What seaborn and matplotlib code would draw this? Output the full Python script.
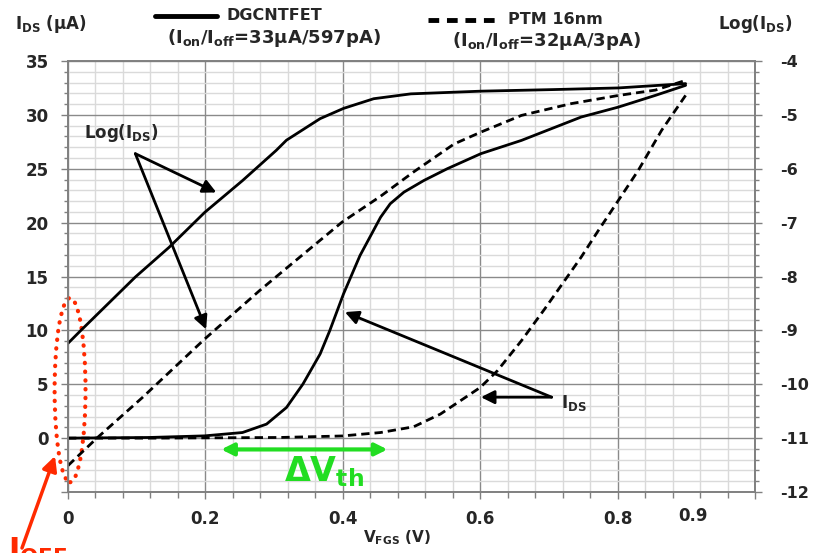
import numpy as np
import pandas as pd
import matplotlib
matplotlib.use("Agg")
import matplotlib.pyplot as plt
import seaborn as sns
from matplotlib.ticker import MultipleLocator
from matplotlib.patches import Ellipse, FancyArrowPatch
from matplotlib.lines import Line2D
import matplotlib.transforms as mtransforms

# datos (V_FGS en V, I_DS en uA, log en decadas)
v_cnt_lin = [0, 0.118, 0.199, 0.254, 0.289, 0.318, 0.342, 0.367, 0.381, 0.401,
             0.425, 0.455, 0.469, 0.489, 0.518, 0.552, 0.601, 0.66, 0.747, 0.801,
             0.855, 0.899]
i_cnt_lin = [0, 0.06, 0.21, 0.52, 1.3, 2.84, 5.02, 7.81, 9.97, 13.38,
             16.94, 20.5, 21.75, 22.83, 23.91, 25.0, 26.4, 27.63, 29.8, 30.72,
             31.81, 32.74]

v_ptm_lin = [0, 0.118, 0.308, 0.399, 0.455, 0.503, 0.542, 0.582, 0.6, 0.625,
             0.66, 0.694, 0.747, 0.772, 0.801, 0.830, 0.864, 0.899]
i_ptm_lin = [0, 0, 0.06, 0.2, 0.52, 1.05, 2.23, 3.93, 4.7, 6.25,
             9.04, 12.0, 16.8, 19.27, 22.05, 24.84, 28.56, 31.81]

v_cnt_log = [0, 0.018, 0.098, 0.147, 0.199, 0.254, 0.303, 0.318, 0.367, 0.401,
             0.445, 0.499, 0.601, 0.708, 0.801, 0.899]
log_cnt = [-9.24, -9.01, -8.01, -7.46, -6.81, -6.22, -5.66, -5.47, -5.07, -4.88,
           -4.70, -4.61, -4.56, -4.53, -4.50, -4.42]

v_ptm_log = [0, 0.042, 0.108, 0.199, 0.279, 0.328, 0.399, 0.455, 0.503, 0.562,
             0.601, 0.66, 0.733, 0.801, 0.855, 0.899]
log_ptm = [-11.51, -11.0, -10.25, -9.16, -8.26, -7.74, -6.99, -6.51, -6.06, -5.54,
           -5.32, -5.01, -4.79, -4.64, -4.54, -4.36]

x_ticks = [0, 0.2, 0.4, 0.6, 0.8, 1.0]
x_tick_labels = ["0", "0.2", "0.4", "0.6", "0.8", ""]
left_ticks = list(range(-5, 36, 5))
left_tick_labels = [""] + [str(t) for t in range(0, 36, 5)]
right_ticks = list(range(-12, -3))

sns.set_theme(style="white")
plt.rcParams["font.family"] = ["DejaVu Sans"]
plt.rcParams["font.weight"] = "bold"
plt.rcParams["mathtext.fontset"] = "dejavusans"
plt.rcParams["mathtext.default"] = "bf"

W, H = 814, 553
fig = plt.figure(figsize=(W / 100, H / 100), dpi=100)
ax = fig.add_axes([68 / W, 1 - 492 / H, (755 - 68) / W, (492 - 61) / H])
ax2 = ax.twinx()

dash = (0, (3, 1.8))
lw = 2.0
sns.lineplot(x=v_cnt_lin, y=i_cnt_lin, ax=ax, color="black", lw=lw,
             sort=False, estimator=None)
sns.lineplot(x=v_ptm_lin, y=i_ptm_lin, ax=ax, color="black", lw=lw,
             linestyle=dash, sort=False, estimator=None)
sns.lineplot(x=v_cnt_log, y=log_cnt, ax=ax2, color="black", lw=lw,
             sort=False, estimator=None)
sns.lineplot(x=v_ptm_log, y=log_ptm, ax=ax2, color="black", lw=lw,
             linestyle=dash, sort=False, estimator=None)

ax.set_xlim(0, 1.0)
ax.set_ylim(-5, 35)
ax2.set_ylim(-12, -4)

ax.set_xticks(x_ticks, labels=x_tick_labels)
ax.xaxis.set_minor_locator(MultipleLocator(0.04))
ax.set_yticks(left_ticks, labels=left_tick_labels)
ax.yaxis.set_minor_locator(MultipleLocator(1))
ax2.set_yticks(right_ticks, labels=[str(t) for t in right_ticks])
ax2.yaxis.set_minor_locator(MultipleLocator(0.2))

ax.grid(which="major", color="#8a8a8a", lw=1.0)
ax.grid(which="minor", color="#dadada", lw=1.0)
ax.set_axisbelow(True)

for a in (ax, ax2):
    for s in a.spines.values():
        s.set_color("#808080")
        s.set_linewidth(1.2)
ax.tick_params(axis="x", which="major", direction="out", length=5, width=1,
               color="#808080", labelsize=12, pad=8, bottom=True)
ax.tick_params(axis="x", which="minor", direction="out", length=4, width=1,
               color="#808080", bottom=True)
ax.tick_params(axis="y", which="major", direction="out", length=5, width=1,
               color="#808080", labelsize=12, pad=9, left=True)
ax.tick_params(axis="y", which="minor", direction="out", length=3, width=1,
               color="#808080", left=True)
ax2.tick_params(axis="y", which="major", direction="out", length=5, width=1,
                color="#808080", labelsize=11.5, pad=13, right=True)
ax2.tick_params(axis="y", which="minor", direction="out", length=3, width=1,
                color="#808080", right=True)
ax.set_xlabel("")
ax.set_ylabel("")
ax2.set_ylabel("")

# etiqueta 0.9 del eje x
trans = mtransforms.blended_transform_factory(ax.transData, ax.transAxes)
ax.text(0.91, -0.035, "0.9", transform=trans, ha="center", va="top",
        fontsize=12, fontweight="bold")

def fpos(x, y):
    return x / W, 1 - y / H

# titulos de ejes y leyenda
fig.text(*fpos(15, 24), r"$I_{DS}$ (µA)", fontsize=12, va="center", ha="left")
fig.text(*fpos(718, 24), r"Log($I_{DS}$)", fontsize=12, va="center", ha="left")
fig.text(*fpos(397, 538), r"$V_{FGS}$ (V)", fontsize=11, va="center", ha="center")

fig.add_artist(Line2D([155 / W, 217 / W], [1 - 16 / H] * 2, color="black", lw=3.5))
fig.text(*fpos(227, 16), "DGCNTFET", fontsize=11.5, va="center", ha="left")
fig.text(*fpos(167, 38), r"($I_{on}$/$I_{off}$=33µA/597pA)", fontsize=13,
         va="center", ha="left")
fig.add_artist(Line2D([428 / W, 500 / W], [1 - 20 / H] * 2, color="black", lw=3.5,
                      linestyle=(0, (2.2, 1.6))))
fig.text(*fpos(508, 20), "PTM 16nm", fontsize=11.5, va="center", ha="left")
fig.text(*fpos(452, 41), r"($I_{on}$/$I_{off}$=32µA/3pA)", fontsize=13,
         va="center", ha="left")

# anotaciones
arrow_k = dict(arrowstyle="-|>", color="black", lw=2, mutation_scale=20,
               shrinkA=0, shrinkB=0)
ax.text(0.024, 28.3, r"Log($I_{DS}$)", fontsize=12, va="center", ha="left")
ax.annotate("", xy=(0.216, 22.8), xytext=(0.098, 26.4), arrowprops=arrow_k)
ax.annotate("", xy=(0.201, 10.1), xytext=(0.098, 26.4), arrowprops=arrow_k)

ax.text(0.717, 3.3, r"$I_{DS}$", fontsize=12, va="center", ha="left")
ax.annotate("", xy=(0.403, 11.7), xytext=(0.704, 3.8), arrowprops=arrow_k)
ax.annotate("", xy=(0.601, 3.8), xytext=(0.704, 3.8), arrowprops=arrow_k)

green = "#22dd22"
ax.annotate("", xy=(0.465, -1.05), xytext=(0.223, -1.05),
            arrowprops=dict(arrowstyle="<|-|>", color=green, lw=3,
                            mutation_scale=18, shrinkA=0, shrinkB=0))
ax.text(0.372, -3.1, r"$\mathrm{\Delta}\mathbf{V}_{\mathbf{th}}$", fontsize=24,
        color=green, ha="center", va="center")

red = "#ff2a00"
ax.add_patch(Ellipse((0.003, 4.46), 0.045, 17.1, fill=False, edgecolor=red,
                     lw=3, linestyle=(0, (0.1, 2.0)), capstyle="round",
                     clip_on=False, zorder=5))
fig.add_artist(FancyArrowPatch(
    fpos(22, 548), fpos(55, 456), transform=fig.transFigure,
    arrowstyle="-|>", color=red, lw=2.5, mutation_scale=22,
    shrinkA=0, shrinkB=0))
fig.text(*fpos(8, 536), r"$I_{OFF}$", fontsize=22, color=red, va="top", ha="left")

fig.savefig("out.png", dpi=100)
